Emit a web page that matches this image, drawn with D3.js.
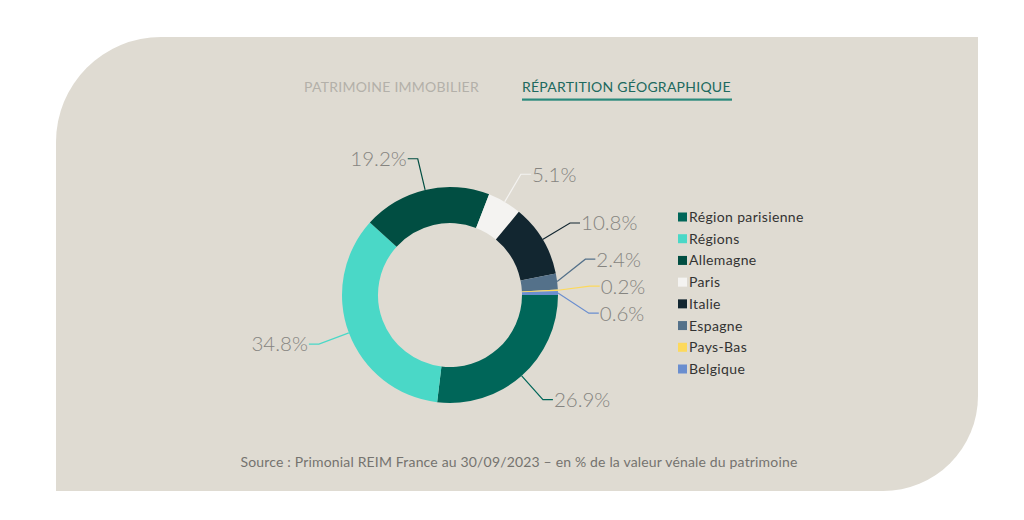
<!DOCTYPE html>
<html>
<head>
<meta charset="utf-8">
<script src="https://cdn.jsdelivr.net/npm/d3@7"></script>
<style>
  body { margin: 0; background: #fff; }
  svg { display: block; }
</style>
</head>
<body>
<script>
let categories = ["Région parisienne", "Régions", "Allemagne", "Paris", "Italie", "Espagne", "Pays-Bas", "Belgique"];
let shares = [26.9, 34.8, 19.2, 5.1, 10.8, 2.4, 0.2, 0.6];
let shareLabels = ["26.9%", "34.8%", "19.2%", "5.1%", "10.8%", "2.4%", "0.2%", "0.6%"];
let sliceColors = ["#006659", "#4ad8c7", "#014e42", "#f4f3f1", "#122630", "#54718a", "#fdd95c", "#6a8ecf"];
let tabs = ["PATRIMOINE IMMOBILIER", "RÉPARTITION GÉOGRAPHIQUE"];
let sourceText = "Source : Primonial REIM France au 30/09/2023 – en % de la valeur vénale du patrimoine";

let width = 1024, height = 520;
let data = categories.map((c, i) => ({name: c, value: shares[i], label: shareLabels[i], color: sliceColors[i]}));

let svg = d3.select("body").append("svg").attr("width", width).attr("height", height);

/* panel with two rounded corners */
let px0 = 56, py0 = 37, px1 = 978, py1 = 491, rTL = 105, rBR = 95;
let panel = d3.path();
panel.moveTo(px0, py0 + rTL);
panel.arcTo(px0, py0, px0 + rTL, py0, rTL);
panel.lineTo(px1, py0);
panel.lineTo(px1, py1 - rBR);
panel.arcTo(px1, py1, px1 - rBR, py1, rBR);
panel.lineTo(px0, py1);
panel.closePath();
svg.append("path").attr("d", panel.toString()).attr("fill", "#dfdbd2");

/* tabs */
let tabX = [304, 522];
svg.selectAll("text.tab")
    .data(tabs)
    .enter().append("text")
        .attr("class", "tab")
        .attr("x", (d, i) => tabX[i])
        .attr("y", 92)
        .attr("font-family", "Lato")
        .attr("font-size", 14)
        .attr("letter-spacing", 0.25)
        .attr("fill", (d, i) => i == 1 ? "#20695e" : "#b3b0a9")
        .text(d => d);
svg.append("rect").attr("x", 522).attr("y", 98.5).attr("width", 210).attr("height", 2.2).attr("fill", "#2b8a7c");

/* donut */
let cx = 450, cy = 295, rOuter = 108, rInner = 72;
let pie = d3.pie().value(d => d.value).sort(null)
    .startAngle(Math.PI / 2).endAngle(Math.PI / 2 + 2 * Math.PI);
let arcs = pie(data);
let arc = d3.arc().innerRadius(rInner).outerRadius(rOuter);

let chartGroup = svg.append("g").attr("transform", `translate(${cx},${cy})`);
chartGroup.selectAll("path.slice")
    .data(arcs)
    .enter().append("path")
        .attr("class", "slice")
        .attr("d", arc)
        .attr("fill", d => d.data.color);

/* label layout: elbow on a circle, spread crowded ones vertically */
let rElbow = 140, minGap = 27;
let labels = arcs.map(a => {
    let mid = (a.startAngle + a.endAngle) / 2;
    return {
        a: a, mid: mid,
        right: Math.sin(mid) > 0,
        px: rOuter * Math.sin(mid), py: -rOuter * Math.cos(mid),
        y: -rElbow * Math.cos(mid)
    };
});
[true, false].forEach(side => {
    let group = labels.filter(l => l.right == side).sort((p, q) => p.y - q.y);
    for (let it = 0; it < 50; it++) {
        for (let k = 1; k < group.length; k++) {
            let gap = group[k].y - group[k - 1].y;
            if (gap < minGap) {
                let push = (minGap - gap) / 2;
                group[k].y += push;
                group[k - 1].y -= push;
            }
        }
    }
});
labels.forEach(l => {
    let yy = Math.max(-rElbow, Math.min(rElbow, l.y));
    let xx = Math.sqrt(rElbow * rElbow - yy * yy);
    l.ex = l.right ? xx : -xx;
    l.tx = l.ex + (l.right ? 11 : -11);
});

chartGroup.selectAll("polyline.leader")
    .data(labels)
    .enter().append("polyline")
        .attr("class", "leader")
        .attr("points", l => `${l.px},${l.py} ${l.ex},${l.y} ${l.tx - (l.right ? 1 : -1)},${l.y}`)
        .attr("fill", "none")
        .attr("stroke", l => l.a.data.color)
        .attr("stroke-width", 1.2);

chartGroup.selectAll("text.pct")
    .data(labels)
    .enter().append("text")
        .attr("class", "pct")
        .attr("x", l => l.tx)
        .attr("y", l => l.y)
        .attr("dy", "0.36em")
        .attr("text-anchor", l => l.right ? "start" : "end")
        .attr("font-family", "Lato")
        .attr("font-weight", 300)
        .attr("font-size", 20.5)
        .attr("fill", "#858480")
        .text(l => l.a.data.label);

/* legend */
let legendY = d3.scalePoint().domain(categories).range([217, 369]);
let legend = svg.append("g").attr("class", "legend");
legend.selectAll("rect")
    .data(data)
    .enter().append("rect")
        .attr("x", 678)
        .attr("y", d => legendY(d.name) - 4.5)
        .attr("width", 9).attr("height", 9)
        .attr("fill", d => d.color);
legend.selectAll("text")
    .data(data)
    .enter().append("text")
        .attr("x", 689)
        .attr("y", d => legendY(d.name))
        .attr("dy", "0.36em")
        .attr("font-family", "Lato")
        .attr("font-size", 14)
        .attr("letter-spacing", 0.35)
        .attr("fill", "#333")
        .text(d => d.name);

/* source */
svg.append("text")
    .attr("x", 519).attr("y", 467)
    .attr("text-anchor", "middle")
    .attr("font-family", "Lato")
    .attr("font-size", 14)
    .attr("letter-spacing", 0.17)
    .attr("fill", "#75736f")
    .text(sourceText);
</script>
</body>
</html>
